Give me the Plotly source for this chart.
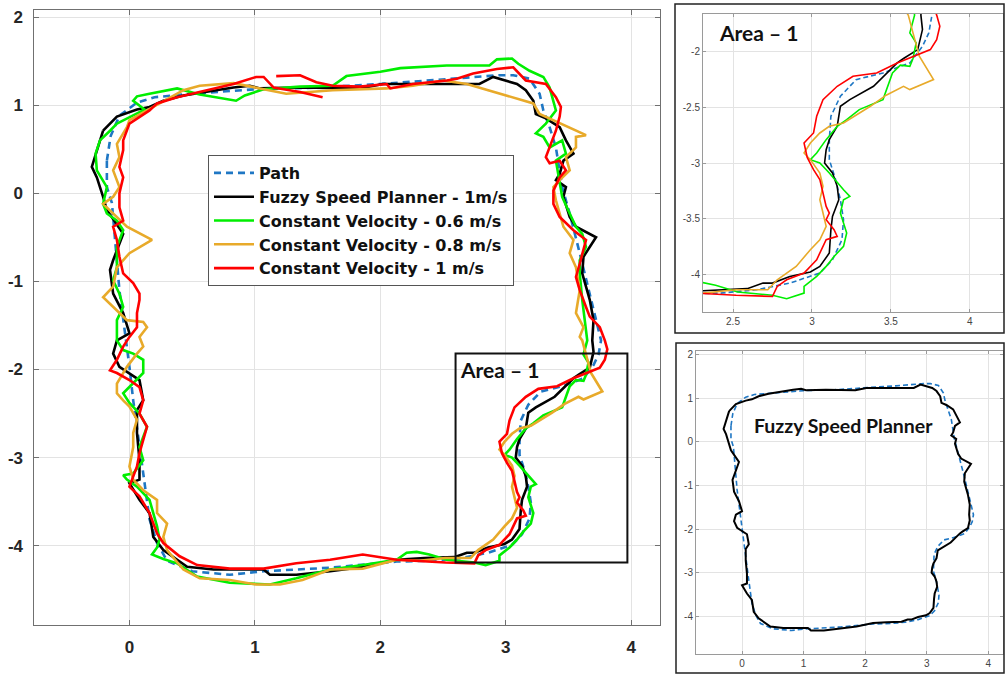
import plotly.graph_objects as go

# ---------------- data ----------------
series_names = ["Path", "Fuzzy Speed Planner - 1m/s", "Constant Velocity - 0.6 m/s",
                "Constant Velocity - 0.8 m/s", "Constant Velocity - 1 m/s"]

path_x = [-0.18, -0.15, -0.08, 0.06, 0.2, 0.5, 1.0, 1.5, 2.0, 2.5, 2.95, 3.06, 3.19, 3.27, 3.3, 3.35,
          3.4, 3.45, 3.51, 3.59, 3.67, 3.72, 3.76, 3.74, 3.70, 3.62, 3.45, 3.28, 3.18, 3.12, 3.11, 3.11,
          3.15, 3.18, 3.2, 3.19, 3.13, 3.05, 2.86, 2.65, 2.42, 2.13, 1.6, 1.07, 0.8, 0.5, 0.3, 0.22,
          0.16, 0.11, 0.03, 0.0, -0.08, -0.14, -0.18, -0.18]
path_y = [0.37, 0.65, 0.88, 1.03, 1.09, 1.13, 1.18, 1.2, 1.24, 1.29, 1.34, 1.34, 1.3, 1.13, 0.94, 0.75,
          0.52, 0.07, -0.23, -0.68, -1.14, -1.45, -1.67, -1.83, -1.95, -2.1, -2.19, -2.25, -2.4, -2.58,
          -2.79, -2.97, -3.15, -3.33, -3.51, -3.69, -3.87, -3.99, -4.08, -4.14, -4.17, -4.18, -4.25,
          -4.29, -4.33, -4.29, -4.17, -3.97, -3.7, -3.18, -2.35, -1.97, -1.1, -0.11, 0.07, 0.37]

fuzzy_x = [-0.21, -0.1, 0.06, 0.16, 0.27, 0.43, 0.83, 0.96, 1.04, 1.36, 1.84, 2.02, 2.53, 2.79, 2.9,
           2.95, 3.09, 3.16, 3.22, 3.24, 3.32, 3.43, 3.48, 3.54, 3.46, 3.43, 3.4, 3.48, 3.46, 3.51, 3.56,
           3.72, 3.67, 3.62, 3.61, 3.67, 3.7, 3.69, 3.7, 3.67, 3.58, 3.54, 3.39, 3.24, 3.18, 3.16, 3.11,
           3.09, 3.08, 3.13, 3.16, 3.17, 3.13, 3.12, 3.11, 3.05, 2.99, 2.86, 2.75, 2.69, 2.59, 2.35,
           2.13, 1.86, 1.6, 1.33, 1.12, 1.07, 0.93, 0.67, 0.46, 0.27, 0.19, 0.16, 0.08, 0.0, 0.08, 0.08,
           0.06, 0.06, 0.11, 0.08, -0.08, -0.13, -0.1, 0.0, -0.05, -0.13, -0.155, -0.13, -0.05, -0.18,
           -0.21, -0.26, -0.3, -0.26, -0.21]
fuzzy_y = [0.71, 0.87, 0.95, 0.98, 1.05, 1.11, 1.2, 1.22, 1.19, 1.2, 1.19, 1.24, 1.24, 1.24, 1.32, 1.3,
           1.24, 1.17, 1.05, 0.9, 0.85, 0.75, 0.6, 0.45, 0.37, 0.22, 0.15, 0.07, -0.04, -0.27, -0.38,
           -0.5, -0.61, -0.72, -0.91, -1.21, -1.44, -1.67, -1.8, -1.98, -2.06, -2.1, -2.31, -2.43,
           -2.49, -2.67, -2.79, -2.88, -3.0, -3.09, -3.21, -3.33, -3.48, -3.6, -3.81, -3.93, -3.98,
           -4.02, -4.08, -4.08, -4.13, -4.14, -4.16, -4.24, -4.29, -4.33, -4.33, -4.27, -4.27, -4.27,
           -4.24, -4.05, -3.9, -3.63, -3.48, -3.29, -3.25, -3.03, -2.72, -2.46, -2.35, -2.12, -1.97,
           -1.82, -1.67, -1.59, -1.36, -1.14, -0.87, -0.76, -0.46, -0.19, -0.04, 0.18, 0.3, 0.49, 0.71]

cv06_x = [-0.1, 0.05, 0.12, 0.03, 0.06, 0.16, 0.38, 0.56, 0.85, 0.92, 1.07, 1.36, 1.62, 1.73, 2.0, 2.16,
          2.53, 2.87, 2.93, 3.05, 3.1, 3.19, 3.3, 3.35, 3.4, 3.32, 3.24, 3.3, 3.35, 3.45, 3.48, 3.4,
          3.43, 3.45, 3.51, 3.56, 3.61, 3.64, 3.59, 3.59, 3.61, 3.64, 3.65, 3.62, 3.66, 3.64, 3.62,
          3.56, 3.51, 3.45, 3.3, 3.22, 3.16, 3.09, 3.03, 2.99, 3.05, 3.11, 3.18, 3.2, 3.24, 3.2, 3.18,
          3.22, 3.2, 3.14, 3.09, 3.03, 2.95, 2.95, 2.84, 2.75, 2.53, 2.39, 2.29, 2.21, 2.13, 1.86, 1.6,
          1.33, 1.12, 0.8, 0.54, 0.38, 0.27, 0.18, 0.22, 0.24, 0.22, 0.16, 0.06, -0.02, -0.05, 0.03,
          0.11, 0.08, 0.14, 0.08, 0.0, -0.05, 0.03, 0.11, 0.11, 0.03, -0.05, -0.1, -0.1, -0.05, -0.08,
          -0.13, -0.1, -0.1, -0.05, -0.1, -0.18, -0.21, -0.18, -0.26, -0.27, -0.235, -0.155, -0.1]
cv06_y = [0.79, 0.9, 0.95, 1.05, 1.1, 1.13, 1.19, 1.12, 1.05, 1.11, 1.18, 1.21, 1.22, 1.33, 1.38, 1.42,
          1.45, 1.45, 1.52, 1.53, 1.47, 1.39, 1.32, 1.2, 0.94, 0.79, 0.68, 0.64, 0.52, 0.6, 0.45, 0.37,
          0.15, -0.04, -0.23, -0.38, -0.46, -0.61, -0.76, -0.91, -1.21, -1.52, -1.67, -1.83, -1.92,
          -2.06, -2.13, -2.12, -2.19, -2.43, -2.52, -2.61, -2.67, -2.79, -2.91, -2.97, -3.0, -3.09,
          -3.21, -3.24, -3.3, -3.33, -3.45, -3.63, -3.75, -3.84, -3.93, -4.02, -4.11, -4.17, -4.22,
          -4.19, -4.16, -4.1, -4.07, -4.08, -4.16, -4.22, -4.27, -4.37, -4.44, -4.42, -4.35, -4.2,
          -4.15, -4.1, -4.02, -3.93, -3.78, -3.48, -3.33, -3.25, -3.2, -3.18, -3.03, -2.88, -2.65,
          -2.5, -2.38, -2.27, -2.16, -2.04, -1.89, -1.82, -1.78, -1.67, -1.44, -1.29, -1.14, -0.99,
          -0.84, -0.61, -0.42, -0.31, -0.23, -0.12, 0.07, 0.26, 0.45, 0.6, 0.71, 0.79]

cv08_x = [-0.02, 0.0, 0.19, 0.43, 0.56, 0.83, 1.04, 1.25, 1.62, 2.05, 2.26, 2.5, 2.69, 3.06, 3.22,
          3.27, 3.38, 3.51, 3.64, 3.56, 3.56, 3.48, 3.51, 3.43, 3.38, 3.4, 3.43, 3.46, 3.54, 3.51,
          3.56, 3.59, 3.56, 3.62, 3.59, 3.61, 3.64, 3.68, 3.77, 3.62, 3.58, 3.47, 3.37, 3.28, 3.2,
          3.11, 3.05, 2.99, 2.95, 2.99, 3.05, 3.07, 3.05, 3.07, 3.09, 3.05, 2.99, 2.9, 2.78, 2.72,
          2.52, 2.31, 2.13, 1.86, 1.6, 1.38, 1.2, 1.01, 0.8, 0.56, 0.43, 0.3, 0.27, 0.3, 0.22, 0.22,
          0.11, 0.03, 0.0, 0.03, 0.03, 0.06, 0.0, -0.05, -0.1, -0.1, -0.05, -0.02, 0.06, 0.11, 0.08,
          0.14, 0.11, -0.02, -0.1, -0.21, -0.13, -0.1, 0.0, 0.18, -0.02, -0.13, -0.21, -0.13, -0.08,
          -0.13, -0.08, -0.1, -0.02]
cv08_y = [0.75, 0.83, 0.98, 1.17, 1.22, 1.25, 1.19, 1.13, 1.17, 1.19, 1.22, 1.28, 1.24, 1.09, 1.02,
          0.9, 0.83, 0.75, 0.66, 0.64, 0.52, 0.41, 0.26, 0.15, 0.07, -0.08, -0.23, -0.38, -0.53, -0.68,
          -0.84, -1.1, -1.36, -1.52, -1.63, -1.67, -1.83, -2.04, -2.25, -2.34, -2.31, -2.39, -2.49,
          -2.57, -2.64, -2.67, -2.73, -2.82, -2.91, -2.97, -3.09, -3.21, -3.33, -3.45, -3.57, -3.69,
          -3.78, -3.93, -4.05, -4.14, -4.14, -4.17, -4.16, -4.26, -4.27, -4.39, -4.44, -4.44, -4.39,
          -4.37, -4.27, -4.05, -3.9, -3.75, -3.63, -3.48, -3.37, -3.25, -3.1, -2.88, -2.72, -2.57,
          -2.42, -2.35, -2.27, -2.16, -2.04, -1.97, -1.82, -1.74, -1.63, -1.52, -1.46, -1.44, -1.33,
          -1.18, -1.06, -0.84, -0.68, -0.53, -0.38, -0.23, -0.12, -0.04, 0.07, 0.26, 0.41, 0.56, 0.75]

cv10_x = [1.17, 1.36, 1.49, 1.62, 1.84, 2.05, 2.08, 2.26, 2.53, 2.61, 2.74, 2.93, 3.06, 3.11, 3.16,
          3.32, 3.4, 3.44, 3.43, 3.4, 3.38, 3.35, 3.32, 3.35, 3.43, 3.48, 3.43, 3.38, 3.38, 3.43, 3.54,
          3.64, 3.62, 3.59, 3.56, 3.59, 3.64, 3.67, 3.75, 3.79, 3.81, 3.79, 3.75, 3.64, 3.54, 3.41,
          3.26, 3.16, 3.07, 3.03, 3.01, 2.95, 2.97, 3.01, 3.05, 3.07, 3.09, 3.11, 3.09, 3.14, 3.16,
          3.09, 3.03, 2.95, 2.84, 2.78, 2.75, 2.52, 2.39, 2.13, 1.86, 1.6, 1.33, 1.07, 0.8, 0.54, 0.4,
          0.27, 0.22, 0.16, 0.08, 0.0, 0.06, 0.08, 0.11, 0.14, 0.08, 0.11, 0.08, 0.0, -0.1, -0.155,
          -0.1, -0.05, 0.0, 0.06, 0.06, 0.08, 0.08, 0.03, -0.05, -0.08, -0.1, -0.13, -0.05, -0.08,
          -0.08, -0.05, -0.08, -0.05, -0.05, 0.0, 0.16, 0.22, 0.38, 0.56, 0.83, 1.01, 1.07, 1.15, 1.36,
          1.54]
cv10_y = [1.33, 1.34, 1.26, 1.22, 1.21, 1.24, 1.19, 1.24, 1.28, 1.3, 1.36, 1.41, 1.43, 1.36, 1.28,
          1.24, 1.09, 0.98, 0.87, 0.71, 0.64, 0.52, 0.41, 0.34, 0.37, 0.26, 0.18, 0.03, -0.12, -0.27,
          -0.42, -0.53, -0.65, -0.8, -0.95, -1.1, -1.29, -1.4, -1.52, -1.67, -1.77, -1.89, -1.98,
          -2.04, -2.1, -2.19, -2.22, -2.31, -2.43, -2.58, -2.73, -2.82, -2.95, -3.06, -3.15, -3.27,
          -3.39, -3.45, -3.51, -3.6, -3.66, -3.69, -3.87, -3.99, -4.05, -4.11, -4.2, -4.19, -4.18,
          -4.16, -4.1, -4.16, -4.2, -4.26, -4.26, -4.22, -4.12, -3.97, -3.86, -3.63, -3.44, -3.33,
          -3.1, -2.95, -2.8, -2.65, -2.5, -2.35, -2.2, -2.12, -2.04, -2.01, -1.89, -1.74, -1.63, -1.52,
          -1.36, -1.21, -1.14, -1.02, -0.91, -0.72, -0.53, -0.38, -0.31, -0.16, 0.0, 0.18, 0.3, 0.49,
          0.6, 0.79, 0.94, 1.02, 1.09, 1.15, 1.24, 1.32, 1.32, 1.2, 1.15, 1.09]

# tick values / labels
main_xticks = [0, 1, 2, 3, 4]
main_xlabels = ["0", "1", "2", "3", "4"]
main_yticks = [-4, -3, -2, -1, 0, 1, 2]
main_ylabels = ["-4", "-3", "-2", "-1", "0", "1", "2"]
area_xticks = [2.5, 3, 3.5, 4]
area_xlabels = ["2.5", "3", "3.5", "4"]
area_yticks = [-4, -3.5, -3, -2.5, -2]
area_ylabels = ["-4", "-3.5", "-3", "-2.5", "-2"]

# ---------------- figure ----------------
W, H = 1005, 675
def px(x):
    return x / W
def py(y):
    return 1 - y / H

colors = ["#1f77c4", "#000000", "#00ee00", "#e8aa2a", "#ff0000"]
dashes = ["7px,5px", "solid", "solid", "solid", "solid"]
data = [(path_x, path_y), (fuzzy_x, fuzzy_y), (cv06_x, cv06_y), (cv08_x, cv08_y), (cv10_x, cv10_y)]

fig = go.Figure()

# main panel
for (xs, ys), name, c, d in zip(data, series_names, colors, dashes):
    fig.add_trace(go.Scatter(x=xs, y=ys, mode="lines", name=name,
                             line=dict(color=c, width=2.6, dash=d),
                             xaxis="x", yaxis="y", showlegend=True))
# area inset
for (xs, ys), name, c, d in zip(data, series_names, colors, ["5px,3px"] + dashes[1:]):
    fig.add_trace(go.Scatter(x=xs, y=ys, mode="lines", name=name,
                             line=dict(color=c, width=1.6, dash=d),
                             xaxis="x2", yaxis="y2", showlegend=False))
# fuzzy-only inset
for (xs, ys), name, c, d, w in zip(data[:2], series_names[:2], colors[:2], ["5px,3px", "solid"], [1.6, 2.0]):
    fig.add_trace(go.Scatter(x=xs, y=ys, mode="lines", name=name,
                             line=dict(color=c, width=w, dash=d),
                             xaxis="x3", yaxis="y3", showlegend=False))

grid = "#e3e3e3"
main_axis_common = dict(showgrid=True, gridcolor=grid, gridwidth=1, zeroline=False, automargin=False,
                        showline=True, linecolor="#707070", linewidth=1.2, mirror="ticks",
                        ticks="inside", ticklen=5, tickcolor="#707070",
                        tickfont=dict(family="Liberation Sans, Arial", size=17, color="#262626", weight="bold"))
inset_axis_common = dict(showgrid=True, gridcolor=grid, gridwidth=1, zeroline=False, automargin=False,
                         showline=True, linecolor="#9a9a9a", linewidth=1, mirror="ticks",
                         ticks="inside", ticklen=3, tickcolor="#9a9a9a",
                         tickfont=dict(family="Liberation Sans, Arial", size=10, color="#444444"))

fig.update_layout(
    width=W, height=H, margin=dict(l=0, r=0, t=0, b=0, autoexpand=False),
    paper_bgcolor="white", plot_bgcolor="white",
    xaxis=dict(domain=[px(33.5), px(660)], range=[-0.765, 4.23], anchor="y",
               tickvals=main_xticks, ticktext=main_xlabels, ticklabelstandoff=6, **main_axis_common),
    yaxis=dict(domain=[py(625), py(10)], range=[-4.9, 2.08], anchor="x",
               tickvals=main_yticks, ticktext=main_ylabels, ticklabelstandoff=6, **main_axis_common),
    xaxis2=dict(domain=[px(703), px(1003)], range=[2.31, 4.21], anchor="y2",
                tickvals=area_xticks, ticktext=area_xlabels, **inset_axis_common),
    yaxis2=dict(domain=[py(312), py(14)], range=[-4.34, -1.66], anchor="x2",
                tickvals=area_yticks, ticktext=area_ylabels, **inset_axis_common),
    xaxis3=dict(domain=[px(696), px(1003)], range=[-0.748, 4.24], anchor="y3",
                tickvals=main_xticks, ticktext=main_xlabels, **inset_axis_common),
    yaxis3=dict(domain=[py(654), py(351)], range=[-4.87, 2.09], anchor="x3",
                tickvals=main_yticks, ticktext=main_ylabels, **inset_axis_common),
    legend=dict(x=px(208), y=py(155), xanchor="left", yanchor="top",
                bgcolor="white", bordercolor="#555555", borderwidth=1,
                font=dict(family="DejaVu Sans, Liberation Sans", size=16, color="#111111", weight="bold"),
                itemwidth=40, tracegroupgap=0),
    showlegend=True,
    shapes=[
        dict(type="rect", xref="x", yref="y", x0=2.6, x1=3.97, y0=-4.19, y1=-1.82,
             line=dict(color="#111111", width=2)),
        dict(type="rect", xref="paper", yref="paper", x0=px(675), x1=px(1004), y0=py(333), y1=py(4),
             line=dict(color="#222222", width=1.5)),
        dict(type="rect", xref="paper", yref="paper", x0=px(676), x1=px(1004), y0=py(673), y1=py(343),
             line=dict(color="#222222", width=1.5)),
    ],
    annotations=[
        dict(text="Area – 1", xref="x", yref="y", x=2.62, y=-2.0, xanchor="left", yanchor="middle",
             showarrow=False, font=dict(family="Lato, Liberation Sans", size=21, color="#111111", weight="bold")),
        dict(text="Area – 1", xref="paper", yref="paper", x=px(717), y=py(33), xanchor="left", yanchor="middle",
             showarrow=False, font=dict(family="Lato, Liberation Sans", size=21, color="#111111", weight="bold")),
        dict(text="Fuzzy Speed Planner", xref="paper", yref="paper", x=px(843), y=py(425), xanchor="center",
             yanchor="middle", showarrow=False,
             font=dict(family="Lato, Liberation Sans", size=19.5, color="#111111", weight="bold")),
    ],
)

fig.write_html("out.html", config={"displayModeBar": False},
               post_script="document.body.style.margin='0';document.body.style.overflow='hidden';")
